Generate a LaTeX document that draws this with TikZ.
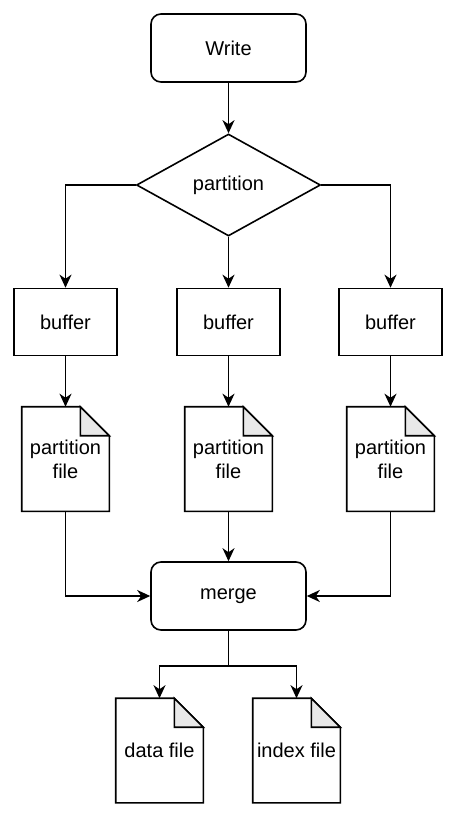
\documentclass[tikz,border=0pt]{standalone}
\usepackage{fontspec}
\setmainfont{Liberation Sans}
\usetikzlibrary{shapes.geometric,arrows.meta,positioning}
\definecolor{foldgray}{HTML}{E8E8E8}

\begin{document}
\begin{tikzpicture}[x=1pt, y=1pt, node distance=137pt, line width=1.6pt,
  >={Stealth[length=13pt,width=12pt,inset=4pt]}]
 \tikzstyle{every node}=[font=\fontsize{20}{24}\selectfont, align=center, inner sep=0pt]
 \tikzstyle{roundbox}=[draw, rectangle, rounded corners=10pt, minimum width=155pt, minimum height=68pt]
 \tikzstyle{decision}=[draw, diamond, aspect=1.8, minimum width=184pt, minimum height=102pt]
 \tikzstyle{procbox}=[draw, rectangle, minimum width=103pt, minimum height=67pt]
 \tikzstyle{docfile}=[rectangle, minimum width=86pt, minimum height=103pt,
   append after command={\pgfextra{
     \draw (\tikzlastnode.south west) -- (\tikzlastnode.north west)
       -- ([xshift=-29pt]\tikzlastnode.north east) -- ([yshift=-29pt]\tikzlastnode.north east)
       -- (\tikzlastnode.south east) -- cycle;
     \draw[fill=foldgray] ([xshift=-29pt]\tikzlastnode.north east)
       -- ([xshift=-29pt,yshift=-29pt]\tikzlastnode.north east)
       -- ([yshift=-29pt]\tikzlastnode.north east) -- cycle;}}]
 \useasboundingbox (0,0) rectangle (458,-817);

 \node[roundbox] (write) at (228.5,-48) {Write};
 \node[decision] (part)  [below of=write] {partition};
 \node[procbox]  (bufb)  [below of=part] {buffer};
 \node[procbox]  (bufa)  [left of=bufb, node distance=163pt] {buffer};
 \node[procbox]  (bufc)  [right of=bufb, node distance=162pt] {buffer};
 \node[docfile]  (pfa)   [below of=bufa] {partition\\file};
 \node[docfile]  (pfb)   [below of=bufb] {partition\\file};
 \node[docfile]  (pfc)   [below of=bufc] {partition\\file};
 \node[roundbox] (merge) [below of=pfb] {merge};
 \coordinate (split) at ([yshift=-35pt]merge.south);
 \node[docfile]  (dfile) [below of=merge, node distance=154.5pt, xshift=-69pt] {data file};
 \node[docfile]  (ifile) [below of=merge, node distance=154.5pt, xshift=68pt] {index file};

 \draw[->] (write) to (part);
 \draw[->] (part.west) -| (bufa);
 \draw[->] (part) to (bufb);
 \draw[->] (part.east) -| (bufc);
 \draw[->] (bufa) to (pfa);
 \draw[->] (bufb) to (pfb);
 \draw[->] (bufc) to (pfc);
 \draw[->] (pfa) |- (merge);
 \draw[->] (pfb) to (merge);
 \draw[->] (pfc) |- (merge);
 \draw (merge) -- (split);
 \draw[->] (split) -| (dfile);
 \draw[->] (split) -| (ifile);
\end{tikzpicture}
\end{document}
